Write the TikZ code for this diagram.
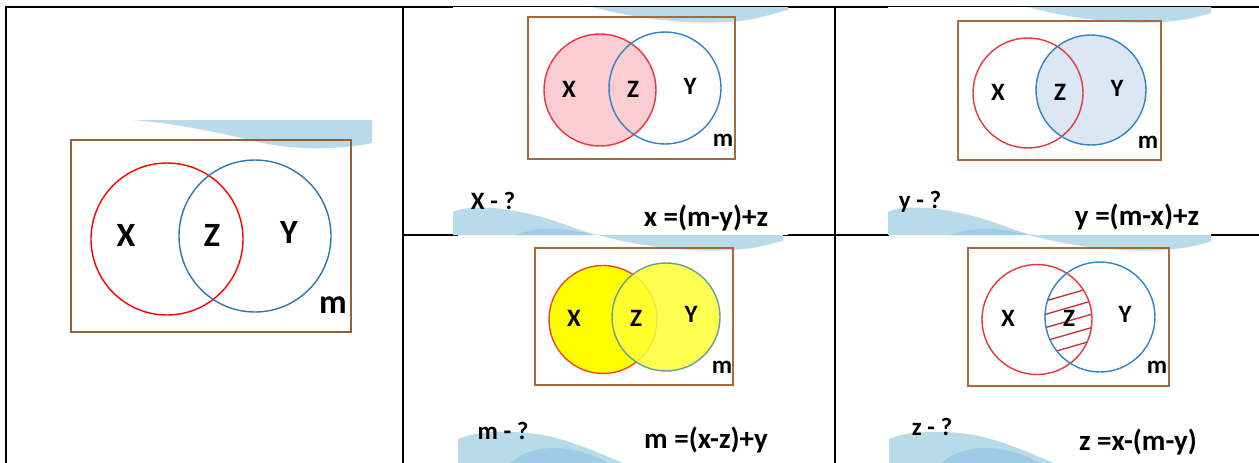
\documentclass[tikz,border=0pt]{standalone}
\usepackage{fontspec}
\setmainfont{Carlito}
\usepackage{tikz}
\definecolor{Frame}{HTML}{A86A3A}
\definecolor{SetX}{HTML}{E8363C}
\definecolor{SetY}{HTML}{2F82C8}
\definecolor{Pink}{HTML}{F9CDD1}
\definecolor{Sky}{HTML}{DBE7F3}
\definecolor{Lemon}{HTML}{FFFF00}
\definecolor{Wave}{HTML}{B9DAE9}
\definecolor{WaveDeep}{HTML}{9FCCE5}
\tikzset{
  grid/.style={line width=2pt, draw=black},
  photo/.style={fill=white},
  frame/.style={draw=Frame, line width=1.5pt},
  ringx/.style={draw=SetX, line width=1.4pt},
  ringy/.style={draw=SetY, line width=1.4pt},
  lbl/.style={font=\bfseries\fontsize{25}{27}\selectfont, inner sep=0pt},
  biglbl/.style={font=\bfseries\fontsize{34}{36}\selectfont, inner sep=0pt},
  ask/.style={font=\bfseries\fontsize{25}{27}\selectfont, inner sep=0pt},
  rule/.style={font=\bfseries\fontsize{29}{31}\selectfont, inner sep=0pt},
  hatch/.style={draw=SetX!85!black, line width=1.3pt},
}
% wave at the top edge of a picture: left, top, width
\newcommand{\wavetop}[3]{%
  \begin{scope}[shift={(#1,#2)}]
    \clip (0,0) rectangle (#3,30);
    \fill[Wave] (140,0) .. controls (190,14) and (255,20) .. (300,12)
      .. controls (318,8) and (330,4) .. (345,0) -- cycle;
  \end{scope}}
% hill at the foot of an upper picture: left, bottom
\newcommand{\wavelow}[2]{%
  \begin{scope}[shift={(#1,#2)}]
    \fill[Wave] (0,-23) .. controls (15,-30) and (45,-29) .. (85,-19)
      .. controls (115,-11) and (130,-2) .. (147,0) -- (0,0) -- cycle;
    \fill[WaveDeep] (62,0) .. controls (85,-9) and (115,-7) .. (140,0) -- cycle;
  \end{scope}}
% hill at the foot of a lower picture: left, bottom
\newcommand{\wavefoot}[2]{%
  \begin{scope}[shift={(#1,#2)}]
    \fill[Wave] (0,-24) .. controls (20,-33) and (60,-33) .. (90,-27)
      .. controls (120,-20) and (145,-8) .. (165,0) -- (0,0) -- cycle;
    \fill[WaveDeep] (52,0) .. controls (75,-20) and (115,-20) .. (150,0) -- cycle;
  \end{scope}}
\begin{document}
\begin{tikzpicture}[x=1pt, y=-1pt]
  \useasboundingbox (0,0) rectangle (1259,463);
  % table
  \draw[grid] (6,7) -- (1259,7);
  \draw[grid] (6,6) -- (6,463);
  \draw[grid] (403,7) -- (403,463);
  \draw[grid] (835,7) -- (835,463);
  \draw[grid] (403,235) -- (1259,235);
  % pasted pictures
  \fill[photo] (453,7) rectangle (788,235);
  \fill[photo] (888,7) rectangle (1211,235);
  \fill[photo] (458,235) rectangle (783,463);
  \fill[photo] (889,235) rectangle (1211,463);
  \wavetop{453}{7}{335}
  \wavetop{888}{7}{323}
  \wavelow{453}{235}
  \wavelow{888}{235}
  \wavetop{458}{235}{325}
  \wavetop{889}{235}{322}
  \wavefoot{458}{463}
  \wavefoot{889}{463}

  % big diagram
  \fill[Wave] (132,120) -- (372,120) -- (372,143) .. controls (340,150) and (290,151) .. (250,140)
    .. controls (200,128) and (160,122) .. (132,120) -- cycle;
  \draw[frame, draw=Frame!90!black] (71,140) rectangle (351,332);
  \draw[ringx, draw=red] (167,239) circle[radius=76pt];
  \draw[ringy, draw=SetY!90!black] (255,236) circle[radius=76pt];
  \node[biglbl] (bx) at (126,235) {X};
  \node[biglbl] (bz) at (212,235) {Z};
  \node[biglbl] (by) at (289,232) {Y};
  \node[biglbl] (bm) at (333,305) {m};

  % x - ?
  \draw[frame] (528,17) rectangle (735,159);
  \fill[Pink] (600,90) circle[radius=56pt];
  \draw[ringx] (600,90) circle[radius=56pt];
  \draw[ringy] (665,88) circle[radius=56pt];
  \node[lbl] (ax) at (569,89) {X};
  \node[lbl] (az) at (633,89) {Z};
  \node[lbl] (ay) at (690,86) {Y};
  \node[lbl] (am) at (723,140) {m};
  \node[ask] (aq) at (493,201) {X - ?};
  \node[rule] (ar) at (706,218) {x =(m-y)+z};

  % y - ?
  \draw[frame] (958,21) rectangle (1161,160);
  \fill[Sky] (1091,90) circle[radius=55pt];
  \draw[ringx] (1028,93) circle[radius=55pt];
  \draw[ringy] (1091,90) circle[radius=55pt];
  \node[lbl] (cx) at (998,92) {X};
  \node[lbl] (cz) at (1060,92) {Z};
  \node[lbl] (cy) at (1117,88) {Y};
  \node[lbl] (cm) at (1148,142) {m};
  \node[ask] (cq) at (920,202) {y - ?};
  \node[rule] (cr) at (1137,217) {y =(m-x)+z};

  % m - ?
  \draw[frame] (535,248) rectangle (733,385);
  \fill[Lemon] (603,319.5) circle[radius=54pt];
  \draw[ringx, draw=SetX!80!orange] (603,319.5) circle[radius=54pt];
  \fill[Lemon!80!white, opacity=0.85] (666,317) circle[radius=54pt];
  \draw[ringy, draw=SetY!75!Lemon] (666,317) circle[radius=54pt];
  \node[lbl] (dx) at (574,318) {X};
  \node[lbl] (dz) at (636,318) {Z};
  \node[lbl] (dy) at (691,314) {Y};
  \node[lbl] (dm) at (722,367) {m};
  \node[ask] (dq) at (503,431) {m - ?};
  \node[rule] (dr) at (706,440) {m =(x-z)+y};

  % z - ?
  \draw[frame] (968,248) rectangle (1169,386);
  \begin{scope}
    \clip (1037,319.5) circle[radius=55pt];
    \clip (1100,317) circle[radius=55pt];
    \foreach \i in {0,...,4}
      \draw[hatch] (1030,{305.5+13.3*\i}) -- ++(80,-23.2);
  \end{scope}
  \draw[ringx] (1037,319.5) circle[radius=55pt];
  \draw[ringy] (1100,317) circle[radius=55pt];
  \node[lbl] (ex) at (1008,318) {X};
  \node[lbl] (ez) at (1069,318) {Z};
  \node[lbl] (ey) at (1125,314) {Y};
  \node[lbl] (em) at (1157,367) {m};
  \node[ask] (eq) at (932,427) {z - ?};
  \node[rule] (er) at (1138,442) {z =x-(m-y)};
\end{tikzpicture}
\end{document}
